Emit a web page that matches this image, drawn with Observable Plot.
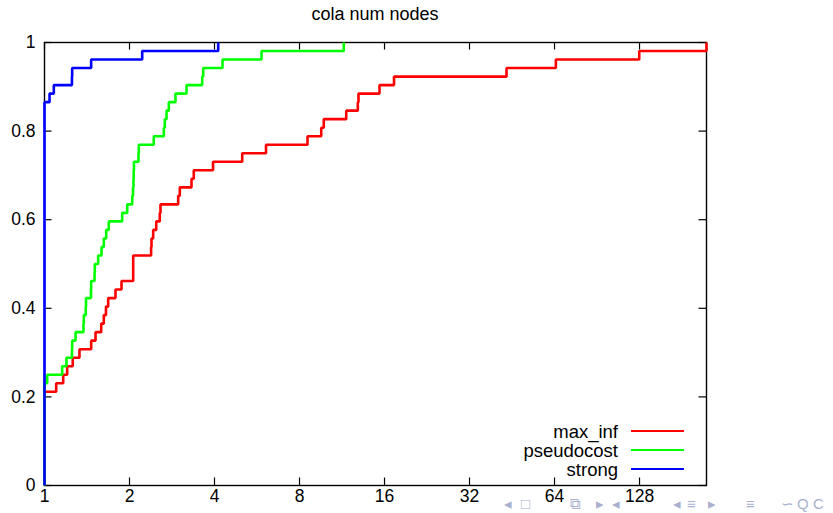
<!DOCTYPE html>
<html>
<head>
<meta charset="utf-8">
<script src="https://cdn.jsdelivr.net/npm/d3@7"></script>
<script src="https://cdn.jsdelivr.net/npm/@observablehq/plot@0.6"></script>
<style>
  html, body { margin: 0; padding: 0; background: white; }
  #wrap { position: relative; width: 833px; height: 513px; font-family: "Liberation Sans", Arial, sans-serif; }
  #chart { position: absolute; left: 0; top: 0; }
  .title { position: absolute; left: 44px; width: 662px; top: 4px; text-align: center; font-size: 18px; color: #000; }
  .leg { position: absolute; height: 19px; line-height: 19px; font-size: 18.5px; }
  .legtxt { position: absolute; right: 215px; text-align: right; white-space: nowrap; }
  .legline { position: absolute; left: 631px; width: 53px; height: 2.6px; }
  .nav { position: absolute; top: 495px; font-size: 15px; color: #a9b0cf; line-height: 18px; }
</style>
</head>
<body>
<div id="wrap"></div>
<script>
// ---- data ----
const nInstances = 52;
const xMax = 221;
const xTickValues = [1, 2, 4, 8, 16, 32, 64, 128];
const yTickValues = [0, 0.2, 0.4, 0.6, 0.8, 1];
const yTickLabels = ["0", "0.2", "0.4", "0.6", "0.8", "1"];
const seriesNames = ["max_inf", "pseudocost", "strong"];
const seriesColors = ["#ff0000", "#00ff00", "#0000ff"];

const maxInfRatio = [1, 1, 1.100, 1.165, 1.203, 1.259, 1.330, 1.463, 1.516, 1.588, 1.622, 1.651, 1.681, 1.784, 1.874, 2.061, 2.385, 2.393, 2.426, 2.487, 2.560, 2.575, 2.975, 3.014, 3.316, 3.378, 3.952, 5.014, 6.088, 8.54, 9.55, 9.75, 11.71, 12.87, 12.94, 15.36, 17.29, 43.27, 64.7, 127.7, 221];
const maxInfSolved = [0, 11, 12, 13, 14, 15, 16, 17, 18, 19, 20, 21, 22, 23, 24, 27, 28, 29, 30, 31, 32, 33, 34, 35, 36, 37, 38, 39, 40, 41, 42, 43, 44, 45, 46, 47, 48, 49, 50, 51, 52];

const pseudoRatio = [1, 1, 1.022, 1.155, 1.196, 1.251, 1.253, 1.288, 1.374, 1.378, 1.400, 1.403, 1.461, 1.463, 1.504, 1.507, 1.549, 1.592, 1.622, 1.654, 1.689, 1.884, 1.963, 2.045, 2.058, 2.066, 2.070, 2.074, 2.152, 2.158, 2.438, 2.646, 2.667, 2.705, 2.756, 2.910, 3.184, 3.618, 3.648, 4.27, 5.87, 11.48];
const pseudoSolved = [0, 12, 13, 14, 15, 16, 17, 18, 19, 20, 21, 22, 23, 24, 25, 26, 27, 28, 29, 30, 31, 32, 33, 34, 35, 36, 37, 38, 39, 40, 41, 42, 43, 44, 45, 46, 47, 48, 49, 50, 51, 52];

const strongRatio = [1, 1, 1.042, 1.079, 1.251, 1.253, 1.463, 2.218, 4.123];
const strongSolved = [0, 45, 46, 47, 48, 49, 50, 51, 52];

// beamer navigation symbols visible at the bottom right
const navSymbols = [
  ["◂", 504], ["□", 521], ["⧉", 570], ["▸", 596], ["◂", 612],
  ["◂", 673], ["≡", 687], ["▸", 708], ["≡", 746], ["∽", 781], ["Q", 797], ["C", 813]
];

// ---- build ----
const ratios = [maxInfRatio, pseudoRatio, strongRatio];
const solved = [maxInfSolved, pseudoSolved, strongSolved];
const rows = seriesNames.map((name, s) =>
  ratios[s].map((r, i) => ({series: name, r, v: solved[s][i] / nInstances}))
);

const W = 833, H = 513, mL = 44, mR = 127, mT = 42, mB = 28;
const frameW = W - mL - mR, frameH = H - mT - mB;
const tick = 7.5;

const chart = Plot.plot({
  width: W, height: H,
  marginLeft: mL, marginRight: mR, marginTop: mT, marginBottom: mB,
  x: {type: "log", base: 2, domain: [1, xMax], label: null},
  y: {domain: [0, 1], label: null},
  style: {fontFamily: "Liberation Sans, Arial, sans-serif", fontSize: "17.5px", background: "transparent", color: "black", overflow: "visible"},
  marks: [
    Plot.ruleX(xTickValues, {x: d => d, insetTop: frameH - tick, stroke: "#000", strokeWidth: 1.2}),
    Plot.ruleX(xTickValues, {x: d => d, insetBottom: frameH - tick, stroke: "#000", strokeWidth: 1.2}),
    Plot.ruleY(yTickValues, {y: d => d, insetRight: frameW - tick, stroke: "#000", strokeWidth: 1.2}),
    Plot.ruleY(yTickValues, {y: d => d, insetLeft: frameW - tick, stroke: "#000", strokeWidth: 1.2}),
    Plot.frame({stroke: "#000", strokeWidth: 1.4}),
    Plot.axisX({ticks: xTickValues, tickSize: 0, tickPadding: 4, tickFormat: d => String(d), fill: "#000"}),
    Plot.axisY({ticks: yTickValues, tickSize: 0, tickPadding: 9, tickFormat: d => yTickLabels[yTickValues.indexOf(d)], fill: "#000"}),
    ...rows.map((data, s) => Plot.line(data, {x: "r", y: "v", curve: "step-after", stroke: seriesColors[s], strokeWidth: 2.6, strokeLinejoin: "miter", strokeLinecap: "butt"}))
  ]
});
chart.id = "chart";

const wrap = document.getElementById("wrap");
navSymbols.forEach(([ch, x]) => {
  const d = document.createElement("div");
  d.className = "nav";
  d.style.left = x + "px";
  d.textContent = ch;
  wrap.appendChild(d);
});
wrap.appendChild(chart);

const title = document.createElement("div");
title.className = "title";
title.textContent = "cola num nodes";
wrap.appendChild(title);

const legY = [431, 450, 469];
seriesNames.forEach((name, s) => {
  const row = document.createElement("div");
  row.className = "leg";
  row.style.left = "0px";
  row.style.width = W + "px";
  row.style.top = (legY[s] - 9.5) + "px";
  const t = document.createElement("span");
  t.className = "legtxt";
  t.textContent = name;
  const l = document.createElement("div");
  l.className = "legline";
  l.style.top = "8.2px";
  l.style.background = seriesColors[s];
  row.appendChild(t);
  row.appendChild(l);
  wrap.appendChild(row);
});
</script>
</body>
</html>
